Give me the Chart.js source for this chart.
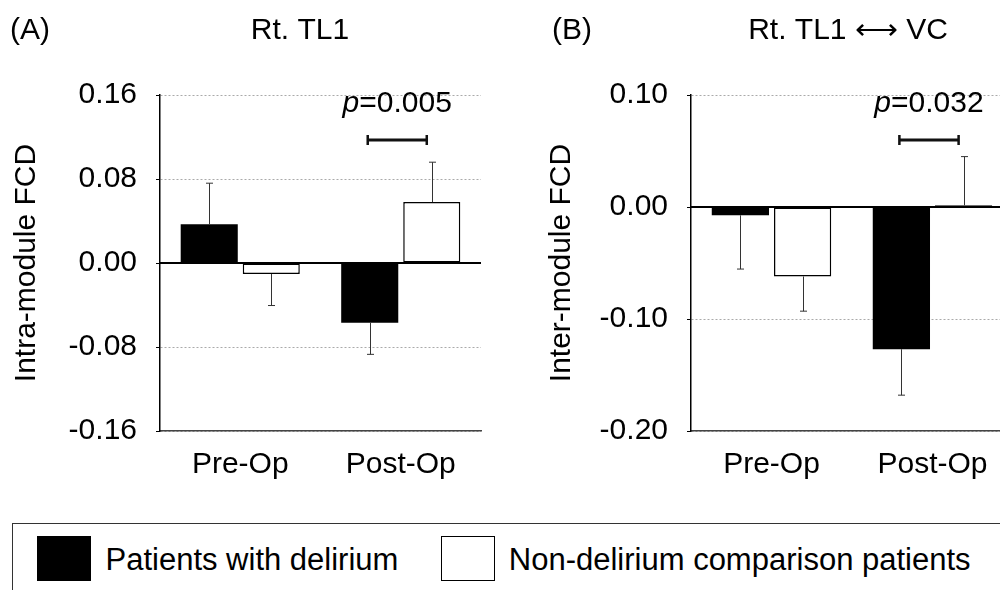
<!DOCTYPE html>
<html>
<head>
<meta charset="utf-8">
<title>FCD</title>
<script src="https://cdn.jsdelivr.net/npm/chart.js@4.4.1/dist/chart.umd.min.js"></script>
<style>
  html, body { margin: 0; padding: 0; background: #fff; overflow: hidden; }
  #wrap {
    position: relative; width: 1000px; height: 590px; overflow: hidden;
    font-family: 'Liberation Sans', Arial, Helvetica, sans-serif; color: #000;
  }
  #wrap canvas { position: absolute; top: 0; }
  #chartA { left: 0; }
  #chartB { left: 500px; }
  #legend {
    position: absolute; left: 12px; top: 523px; width: 1100px; height: 100px;
    border: 1.5px solid #333; box-sizing: border-box;
  }
  #legend .sw { position: absolute; top: 11.5px; width: 54px; height: 45px; box-sizing: border-box; border: 1.5px solid #000; }
  #legend .lab { position: absolute; top: 20px; font-size: 31px; line-height: 31px; white-space: nowrap; }
</style>
</head>
<body>
<div id="wrap">
  <canvas id="chartA" width="500" height="500"></canvas>
  <canvas id="chartB" width="540" height="500"></canvas>
  <div id="legend"></div>
</div>
<script>
// Datos
const categories = ['Pre-Op', 'Post-Op'];
const seriesLabels = ['Patients with delirium', 'Non-delirium comparison patients'];
const seriesColors = ['#000000', '#ffffff'];

// (A) Rt. TL1 - intra-module FCD
const deliriumA = [0.037, -0.057];
const deliriumErrA = [0.039, 0.030];
const controlA = [-0.0105, 0.058];
const controlErrA = [0.030, 0.038];
const yTicksA = [-0.16, -0.08, 0, 0.08, 0.16];
const pValueA = '0.005';

// (B) Rt. TL1 <-> VC - inter-module FCD
const deliriumB = [-0.0074, -0.127];
const deliriumErrB = [0.048, 0.041];
const controlB = [-0.062, 0.0015];
const controlErrB = [0.031, 0.0435];
const yTicksB = [-0.2, -0.1, 0, 0.1];
const pValueB = '0.032';

const FONT = "'Liberation Sans', Arial, Helvetica, sans-serif";

// línea del cero, sólida y negra
const zeroLine = {
    id: 'zeroLine',
    beforeDatasetsDraw(chart) {
        const { ctx, chartArea } = chart;
        const y0 = chart.scales.y.getPixelForValue(0);
        ctx.save();
        ctx.strokeStyle = '#000';
        ctx.lineWidth = 2;
        ctx.beginPath();
        ctx.moveTo(chartArea.left, y0);
        ctx.lineTo(chartArea.right, y0);
        ctx.stroke();
        ctx.restore();
    }
};

// barras de error (solo hacia fuera del cero)
const errorBars = {
    id: 'errorBars',
    afterDatasetsDraw(chart) {
        const { ctx } = chart;
        const yScale = chart.scales.y;
        chart.data.datasets.forEach((ds, i) => {
            chart.getDatasetMeta(i).data.forEach((bar, j) => {
                const v = ds.data[j];
                const e = ds.errors[j];
                const end = yScale.getPixelForValue(v >= 0 ? v + e : v - e);
                const x = Math.round(bar.x) + 0.5;
                ctx.save();
                ctx.strokeStyle = '#333';
                ctx.lineWidth = 1;
                ctx.beginPath();
                ctx.moveTo(x, bar.y);
                ctx.lineTo(x, end);
                ctx.moveTo(x - 3.5, end);
                ctx.lineTo(x + 3.5, end);
                ctx.stroke();
                ctx.restore();
            });
        });
    }
};

// títulos y marca de significación
const annotations = {
    id: 'annotations',
    afterDraw(chart, args, opts) {
        const { ctx, chartArea } = chart;
        ctx.save();
        ctx.fillStyle = '#000';
        ctx.textBaseline = 'alphabetic';
        ctx.font = '30px ' + FONT;
        ctx.textAlign = 'left';
        ctx.fillText(opts.panel, opts.panelX, 39);
        ctx.textAlign = 'center';
        ctx.fillText(opts.title, opts.titleX, 39);

        // corchete entre las dos barras de Post-Op
        const b0 = chart.getDatasetMeta(0).data[1];
        const b1 = chart.getDatasetMeta(1).data[1];
        const x1 = b0.x - 2;
        const x2 = b1.x - 5;
        const yb = chartArea.top + 45;
        ctx.strokeStyle = '#111';
        ctx.lineWidth = 3;
        ctx.beginPath();
        ctx.moveTo(x1, yb);
        ctx.lineTo(x2, yb);
        ctx.stroke();
        ctx.lineWidth = 2.5;
        ctx.beginPath();
        ctx.moveTo(x1, yb - 5);
        ctx.lineTo(x1, yb + 5);
        ctx.moveTo(x2, yb - 5);
        ctx.lineTo(x2, yb + 5);
        ctx.stroke();

        // p=...
        const cx = (x1 + x2) / 2;
        ctx.textAlign = 'left';
        ctx.font = 'italic 30px ' + FONT;
        const wp = ctx.measureText('p').width;
        ctx.font = '30px ' + FONT;
        const rest = '=' + opts.pValue;
        const wr = ctx.measureText(rest).width;
        const x0 = cx - (wp + wr) / 2;
        const by = chartArea.top + 17;
        ctx.font = 'italic 30px ' + FONT;
        ctx.fillText('p', x0, by);
        ctx.font = '30px ' + FONT;
        ctx.fillText(rest, x0 + wp, by);
        ctx.restore();
    }
};

function makeChart(id, cfg) {
    const ctx = document.getElementById(id).getContext('2d');
    return new Chart(ctx, {
        type: 'bar',
        data: {
            labels: categories,
            datasets: [
                {
                    label: seriesLabels[0],
                    data: cfg.delirium,
                    errors: cfg.deliriumErr,
                    backgroundColor: seriesColors[0],
                    borderColor: '#000',
                    borderWidth: 0,
                    categoryPercentage: 0.773,
                    barPercentage: 0.92
                },
                {
                    label: seriesLabels[1],
                    data: cfg.control,
                    errors: cfg.controlErr,
                    backgroundColor: seriesColors[1],
                    borderColor: '#000',
                    borderWidth: 1.5,
                    borderSkipped: false,
                    categoryPercentage: 0.773,
                    barPercentage: 0.92
                }
            ]
        },
        options: {
            responsive: false,
            animation: false,
            layout: { padding: { top: 95, right: cfg.padRight, left: 0, bottom: 0 } },
            plugins: {
                legend: { display: false },
                tooltip: { enabled: false },
                annotations: { panel: cfg.panel, panelX: cfg.panelX, title: cfg.title, titleX: cfg.titleX, pValue: cfg.pValue }
            },
            scales: {
                x: {
                    grid: { display: true, drawOnChartArea: false, drawTicks: false },
                    border: { display: true, color: '#444', width: 1.5 },
                    ticks: { color: '#000', padding: 16, font: { family: FONT, size: 30 } },
                    afterFit(scale) { scale.height = 69; }
                },
                y: {
                    min: cfg.ticks[0],
                    max: cfg.ticks[cfg.ticks.length - 1],
                    afterBuildTicks(scale) { scale.ticks = cfg.ticks.map(v => ({ value: v })); },
                    afterFit(scale) { scale.width = cfg.axisWidth; },
                    grid: {
                        color: '#aaa',
                        lineWidth: 1,
                        tickColor: '#000',
                        tickLength: 4,
                        tickWidth: 1
                    },
                    border: { display: true, color: '#000', width: 1.5, dash: [2, 2] },
                    ticks: {
                        color: '#000',
                        padding: 19,
                        font: { family: FONT, size: 30 },
                        callback: v => (Math.abs(v) < 1e-9 ? 0 : v).toFixed(2)
                    },
                    title: {
                        display: true,
                        text: cfg.yTitle,
                        color: '#000',
                        font: { family: FONT, size: 30 },
                        padding: { top: cfg.titlePad, bottom: 0 }
                    }
                }
            }
        },
        plugins: [zeroLine, errorBars, annotations]
    });
}

makeChart('chartA', {
    delirium: deliriumA, deliriumErr: deliriumErrA,
    control: controlA, controlErr: controlErrA,
    ticks: yTicksA, pValue: pValueA,
    yTitle: 'Intra-module FCD',
    panel: '(A)', panelX: 10, title: 'Rt. TL1', titleX: 300,
    axisWidth: 160, padRight: 19, titlePad: 9
});

makeChart('chartB', {
    delirium: deliriumB, deliriumErr: deliriumErrB,
    control: controlB, controlErr: controlErrB,
    ticks: yTicksB, pValue: pValueB,
    yTitle: 'Inter-module FCD',
    panel: '(B)', panelX: 52, title: 'Rt. TL1 \u27F7 VC', titleX: 348,
    axisWidth: 191, padRight: 27, titlePad: 44
});

// Leyenda común a los dos paneles
const legend = document.getElementById('legend');
const swatchLeft = [23.5, 427.8];
const labelLeft = [92.5, 495.8];
seriesLabels.forEach((name, i) => {
    const sw = document.createElement('div');
    sw.className = 'sw';
    sw.style.left = swatchLeft[i] + 'px';
    sw.style.background = seriesColors[i];
    legend.appendChild(sw);
    const lab = document.createElement('div');
    lab.className = 'lab';
    lab.style.left = labelLeft[i] + 'px';
    lab.textContent = name;
    legend.appendChild(lab);
});
</script>
</body>
</html>
